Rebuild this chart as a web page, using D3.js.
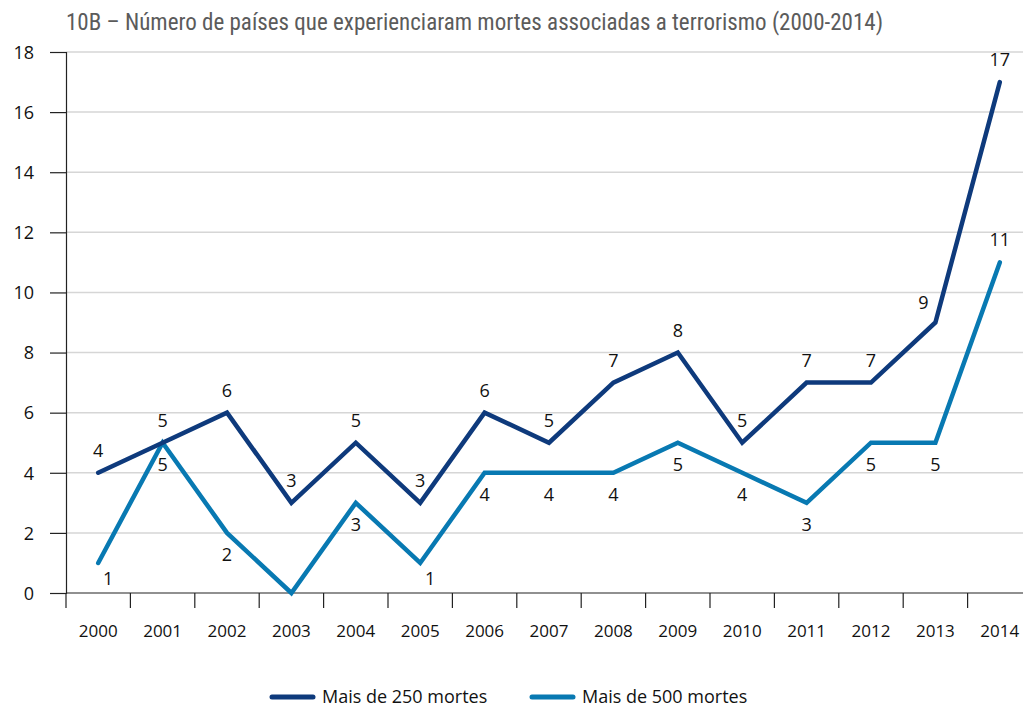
<!DOCTYPE html>
<html>
<head>
<meta charset="utf-8">
<script src="https://cdn.jsdelivr.net/npm/d3@7"></script>
<style>
  body { margin: 0; background: #fff; }
  svg text { font-family: "Open Sans", "Noto Sans", sans-serif; fill: #111; }
</style>
</head>
<body>
<div id="chart"></div>
<script>
// data
const years = ["2000","2001","2002","2003","2004","2005","2006","2007","2008","2009","2010","2011","2012","2013","2014"];
const over250 = [4, 5, 6, 3, 5, 3, 6, 5, 7, 8, 5, 7, 7, 9, 17];
const over500 = [1, 5, 2, 0, 3, 1, 4, 4, 4, 5, 4, 3, 5, 5, 11];
const yTicks = [0, 2, 4, 6, 8, 10, 12, 14, 16, 18];
const seriesNames = ["Mais de 250 mortes", "Mais de 500 mortes"];
const titleText = "10B – Número de países que experienciaram mortes associadas a terrorismo (2000-2014)";

const colors = ["#0e3a7c", "#0879b2"];

// label placement: "a" above, "b" below, "" none, other codes are nudged
const place250 = ["a","a","a","a","a","a","a","a","a","a","a","a","a","al","a"];
const place500 = ["br","b","b","","b","br","b","b","b","b","b","b","b","b","a"];

const W = 1023, H = 708;
const margin = {top: 52, left: 66, bottom: 115};
const bandW = 64.4;

const svg = d3.select("#chart").append("svg")
    .attr("width", W).attr("height", H);

const x = d3.scaleBand()
    .domain(years)
    .range([margin.left, margin.left + bandW * years.length]);

const y = d3.scaleLinear()
    .domain([0, 18])
    .range([593, margin.top]);

// title
svg.append("text")
    .attr("x", 66).attr("y", 30)
    .style("font-family", "'Liberation Sans Narrow', 'Roboto', sans-serif")
    .style("font-stretch", "condensed")
    .style("font-size", "23px")
    .style("fill", "#5b5b5b")
    .text(titleText);

// grid
svg.append("g").selectAll("line")
    .data(yTicks.filter(d => d > 0))
    .enter().append("line")
    .attr("x1", margin.left).attr("x2", W)
    .attr("y1", d => y(d)).attr("y2", d => y(d))
    .attr("stroke", "#d6d6d6").attr("stroke-width", 1.5);

// y axis
const yAxis = d3.axisLeft(y).tickValues(yTicks).tickSize(16).tickPadding(16);
const gy = svg.append("g")
    .attr("transform", `translate(${margin.left},0)`)
    .call(yAxis);
gy.select(".domain").attr("stroke", "#222").attr("stroke-width", 1.2);
gy.selectAll(".tick line").attr("stroke", "#222").attr("stroke-width", 1.2);
gy.selectAll(".tick text").style("font-size", "18px").attr("dy", "0.35em");

// x axis
const xAxis = d3.axisBottom(x).tickSize(0).tickPadding(32);
const gx = svg.append("g")
    .attr("transform", `translate(0,${y(0)})`)
    .call(xAxis);
gx.select(".domain").remove();
gx.selectAll(".tick text").style("font-size", "17px");
gx.append("line")
    .attr("x1", margin.left).attr("x2", W)
    .attr("y1", 0).attr("y2", 0)
    .attr("stroke", "#222").attr("stroke-width", 1.2);
gx.selectAll(".sep")
    .data(years)
    .enter().append("line")
    .attr("class", "sep")
    .attr("x1", d => x(d)).attr("x2", d => x(d))
    .attr("y1", 0).attr("y2", 15)
    .attr("stroke", "#222").attr("stroke-width", 1.2);

// lines
const line = d3.line()
    .x((d, i) => x(years[i]) + x.bandwidth() / 2)
    .y(d => y(d));

[over500, over250].forEach((vals, k) => {
    svg.append("path")
        .datum(vals)
        .attr("fill", "none")
        .attr("stroke", colors[1 - k])
        .attr("stroke-width", 4.5)
        .attr("stroke-linejoin", "miter")
        .attr("stroke-linecap", "round")
        .attr("d", line);
});

// value labels
function offset(code) {
    switch (code) {
        case "a": return [0, -16];
        case "b": return [0, 28];
        case "al": return [-12, -14];
        case "br": return [10, 22];
        default: return null;
    }
}

[[over250, place250], [over500, place500]].forEach(([vals, pl]) => {
    svg.append("g").selectAll("text")
        .data(vals.map((v, i) => ({v, i, o: offset(pl[i])})).filter(d => d.o))
        .enter().append("text")
        .attr("x", d => x(years[d.i]) + x.bandwidth() / 2 + d.o[0])
        .attr("y", d => y(d.v) + d.o[1])
        .attr("text-anchor", "middle")
        .style("font-size", "18px")
        .text(d => d.v);
});

// legend
const legX = [272, 532];
const leg = svg.append("g").selectAll("g")
    .data(seriesNames)
    .enter().append("g")
    .attr("transform", (d, i) => `translate(${legX[i]},697)`);
leg.append("line")
    .attr("x1", 0).attr("x2", 41)
    .attr("stroke", (d, i) => colors[i])
    .attr("stroke-width", 5)
    .attr("stroke-linecap", "round");
leg.append("text")
    .attr("x", 50).attr("y", 6)
    .style("font-size", "18px")
    .text(d => d);
</script>
</body>
</html>
